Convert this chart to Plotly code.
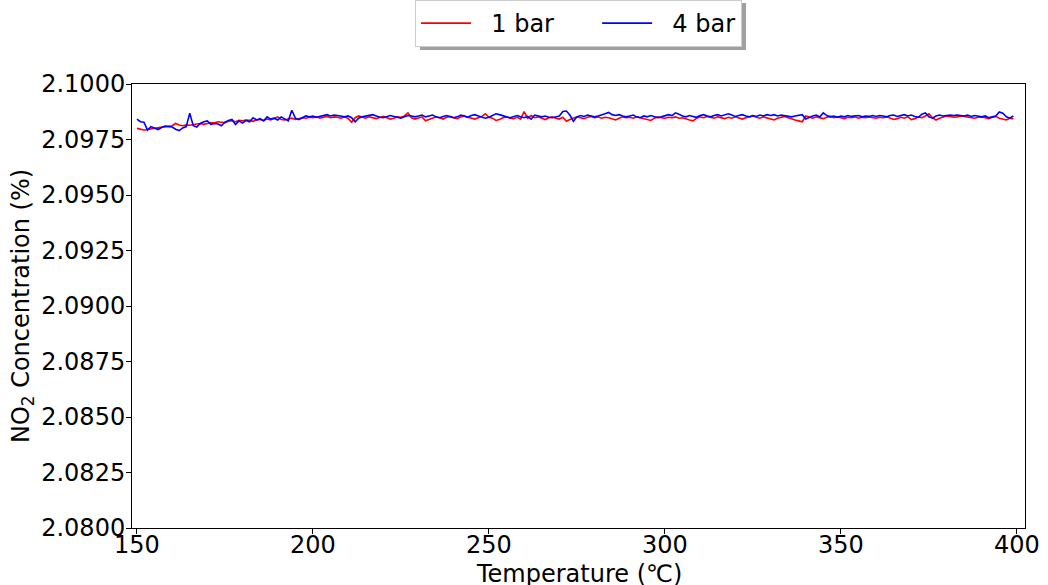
import plotly.graph_objects as go

temperature = list(range(150, 400))

no2_1bar = [
    2.09800, 2.09795, 2.09793, 2.09795, 2.09798, 2.09802, 2.09805, 2.09806, 2.09808, 2.09810,
    2.09812, 2.09822, 2.09815, 2.09812, 2.09816, 2.09814, 2.09818, 2.09820, 2.09822, 2.09818,
    2.09822, 2.09826, 2.09824, 2.09830, 2.09828, 2.09826, 2.09832, 2.09835, 2.09830, 2.09836,
    2.09834, 2.09838, 2.09836, 2.09832, 2.09838, 2.09840, 2.09836, 2.09842, 2.09838, 2.09846,
    2.09852, 2.09840, 2.09838, 2.09842, 2.09846, 2.09840, 2.09844, 2.09848, 2.09846, 2.09850,
    2.09848, 2.09852, 2.09846, 2.09850, 2.09854, 2.09848, 2.09852, 2.09850, 2.09846, 2.09852,
    2.09845, 2.09828, 2.09848, 2.09856, 2.09850, 2.09846, 2.09852, 2.09848, 2.09844, 2.09850,
    2.09854, 2.09848, 2.09842, 2.09846, 2.09852, 2.09850, 2.09856, 2.09870, 2.09848, 2.09842,
    2.09848, 2.09852, 2.09834, 2.09840, 2.09846, 2.09852, 2.09848, 2.09842, 2.09850, 2.09854,
    2.09848, 2.09844, 2.09852, 2.09856, 2.09850, 2.09846, 2.09842, 2.09848, 2.09854, 2.09866,
    2.09850, 2.09846, 2.09836, 2.09840, 2.09848, 2.09852, 2.09846, 2.09844, 2.09850, 2.09842,
    2.09876, 2.09846, 2.09858, 2.09848, 2.09852, 2.09846, 2.09840, 2.09848, 2.09852, 2.09846,
    2.09842, 2.09850, 2.09832, 2.09840, 2.09846, 2.09852, 2.09848, 2.09844, 2.09850, 2.09854,
    2.09848, 2.09852, 2.09846, 2.09850, 2.09848, 2.09842, 2.09838, 2.09846, 2.09852, 2.09848,
    2.09850, 2.09846, 2.09852, 2.09848, 2.09844, 2.09840, 2.09836, 2.09846, 2.09852, 2.09848,
    2.09846, 2.09850, 2.09848, 2.09852, 2.09846, 2.09848, 2.09842, 2.09838, 2.09834, 2.09846,
    2.09852, 2.09848, 2.09854, 2.09850, 2.09846, 2.09852, 2.09848, 2.09844, 2.09850, 2.09846,
    2.09852, 2.09848, 2.09842, 2.09848, 2.09852, 2.09856, 2.09850, 2.09846, 2.09852, 2.09848,
    2.09844, 2.09838, 2.09846, 2.09850, 2.09854, 2.09848, 2.09842, 2.09838, 2.09834, 2.09830,
    2.09856, 2.09850, 2.09846, 2.09852, 2.09848, 2.09844, 2.09850, 2.09854, 2.09848, 2.09852,
    2.09848, 2.09844, 2.09850, 2.09848, 2.09852, 2.09846, 2.09850, 2.09848, 2.09852, 2.09850,
    2.09846, 2.09850, 2.09848, 2.09852, 2.09846, 2.09840, 2.09844, 2.09850, 2.09846, 2.09852,
    2.09840, 2.09844, 2.09852, 2.09848, 2.09856, 2.09866, 2.09848, 2.09838, 2.09846, 2.09852,
    2.09856, 2.09854, 2.09850, 2.09852, 2.09856, 2.09854, 2.09852, 2.09848, 2.09846, 2.09850,
    2.09852, 2.09848, 2.09844, 2.09850, 2.09854, 2.09846, 2.09842, 2.09838, 2.09846, 2.09842,
]

no2_4bar = [
    2.09842, 2.09830, 2.09828, 2.09792, 2.09808, 2.09800, 2.09795, 2.09804, 2.09810, 2.09808,
    2.09806, 2.09796, 2.09790, 2.09802, 2.09808, 2.09868, 2.09812, 2.09806, 2.09822, 2.09830,
    2.09834, 2.09818, 2.09822, 2.09820, 2.09812, 2.09828, 2.09836, 2.09840, 2.09818, 2.09834,
    2.09824, 2.09836, 2.09830, 2.09848, 2.09838, 2.09844, 2.09834, 2.09852, 2.09842, 2.09846,
    2.09838, 2.09852, 2.09844, 2.09834, 2.09882, 2.09846, 2.09840, 2.09848, 2.09856, 2.09852,
    2.09856, 2.09850, 2.09854, 2.09858, 2.09862, 2.09856, 2.09860, 2.09858, 2.09854, 2.09852,
    2.09856, 2.09848, 2.09830, 2.09846, 2.09852, 2.09856, 2.09858, 2.09862, 2.09856, 2.09850,
    2.09848, 2.09852, 2.09858, 2.09854, 2.09850, 2.09846, 2.09852, 2.09858, 2.09856, 2.09852,
    2.09856, 2.09860, 2.09852, 2.09856, 2.09860, 2.09852, 2.09848, 2.09854, 2.09858, 2.09852,
    2.09848, 2.09852, 2.09860, 2.09856, 2.09850, 2.09858, 2.09862, 2.09856, 2.09852, 2.09846,
    2.09850, 2.09858, 2.09866, 2.09862, 2.09856, 2.09852, 2.09848, 2.09854, 2.09858, 2.09852,
    2.09848, 2.09854, 2.09842, 2.09860, 2.09856, 2.09852, 2.09856, 2.09850, 2.09848, 2.09852,
    2.09856, 2.09876, 2.09878, 2.09860, 2.09832, 2.09852, 2.09858, 2.09854, 2.09860, 2.09856,
    2.09852, 2.09856, 2.09860, 2.09866, 2.09872, 2.09862, 2.09858, 2.09862, 2.09856, 2.09852,
    2.09856, 2.09860, 2.09852, 2.09848, 2.09856, 2.09852, 2.09858, 2.09854, 2.09848, 2.09852,
    2.09856, 2.09862, 2.09858, 2.09870, 2.09864, 2.09856, 2.09852, 2.09858, 2.09854, 2.09850,
    2.09858, 2.09862, 2.09856, 2.09852, 2.09858, 2.09862, 2.09856, 2.09860, 2.09866, 2.09860,
    2.09854, 2.09858, 2.09862, 2.09856, 2.09852, 2.09858, 2.09854, 2.09860, 2.09856, 2.09862,
    2.09858, 2.09862, 2.09856, 2.09860, 2.09858, 2.09854, 2.09852, 2.09856, 2.09860, 2.09862,
    2.09842, 2.09850, 2.09856, 2.09860, 2.09852, 2.09870, 2.09858, 2.09852, 2.09856, 2.09850,
    2.09856, 2.09852, 2.09858, 2.09854, 2.09856, 2.09858, 2.09852, 2.09856, 2.09854, 2.09858,
    2.09854, 2.09858, 2.09856, 2.09852, 2.09858, 2.09860, 2.09854, 2.09858, 2.09862, 2.09856,
    2.09860, 2.09854, 2.09850, 2.09864, 2.09870, 2.09852, 2.09846, 2.09856, 2.09860, 2.09856,
    2.09858, 2.09860, 2.09858, 2.09860, 2.09858, 2.09856, 2.09860, 2.09854, 2.09858, 2.09856,
    2.09852, 2.09856, 2.09848, 2.09852, 2.09856, 2.09874, 2.09868, 2.09852, 2.09846, 2.09856,
]

series_names = ["1 bar", "4 bar"]
y_ticks = [2.08 + 0.0025 * i for i in range(9)]
x_ticks = [150, 200, 250, 300, 350, 400]

FONT = "DejaVu Sans"
FS = 24
PLOT_L, PLOT_R, PLOT_T, PLOT_B = 132, 1025, 84, 528
PW, PH = PLOT_R - PLOT_L, PLOT_B - PLOT_T
NB = "\u00a0"

fig = go.Figure()
fig.add_trace(go.Scatter(x=temperature, y=no2_1bar, mode="lines",
                         name=NB * 2 + series_names[0] + NB * 5,
                         line=dict(color="#ff0000", width=1.6)))
fig.add_trace(go.Scatter(x=temperature, y=no2_4bar, mode="lines",
                         name=NB * 2 + series_names[1],
                         line=dict(color="#0000ff", width=1.6)))

# legend shadow (drawn beneath the legend box)
sh_x0, sh_x1, sh_y0, sh_y1 = 420, 746, 3, 50

fig.update_layout(
    width=1048, height=585,
    margin=dict(l=PLOT_L, r=1048 - PLOT_R, t=PLOT_T, b=585 - PLOT_B),
    paper_bgcolor="white", plot_bgcolor="white",
    font=dict(family=FONT, size=FS, color="black"),
    showlegend=True,
    legend=dict(orientation="h", x=0.5, xanchor="center", xref="paper",
                y=1, yanchor="top", yref="container",
                bgcolor="white", bordercolor="#cccccc", borderwidth=1,
                font=dict(family=FONT, size=FS), itemwidth=50),
    shapes=[dict(type="rect", xref="paper", yref="paper",
                 x0=(sh_x0 - PLOT_L) / PW, x1=(sh_x1 - PLOT_L) / PW,
                 y0=(PLOT_B - sh_y1) / PH, y1=(PLOT_B - sh_y0) / PH,
                 fillcolor="#a0a0a0", line=dict(width=0), layer="above")],
    annotations=[
        dict(text="Temperature (℃)", xref="paper", yref="paper", x=0.5,
             y=-(574 - PLOT_B) / PH, xanchor="center", yanchor="middle",
             showarrow=False, font=dict(family=FONT, size=FS)),
        dict(text="NO<sub>2</sub> Concentration (%)", xref="paper", yref="paper",
             x=-(PLOT_L - 22) / PW, y=0.5, xanchor="center", yanchor="middle",
             textangle=-90, showarrow=False, font=dict(family=FONT, size=FS)),
    ],
)

fig.update_xaxes(range=[148.6, 402.3], tickvals=x_ticks, ticks="outside", ticklen=5,
                 tickcolor="black", showline=True, linecolor="black", linewidth=1,
                 mirror=True, showgrid=False, zeroline=False, automargin=False,
                 tickfont=dict(family=FONT, size=FS), ticklabelstandoff=-10)
fig.update_yaxes(range=[2.08, 2.10], tickvals=y_ticks, tickformat=".4f", ticks="outside", ticklen=5,
                 tickcolor="black", showline=True, linecolor="black", linewidth=1,
                 mirror=True, showgrid=False, zeroline=False, automargin=False,
                 tickfont=dict(family=FONT, size=FS), ticklabelstandoff=-4)

fig.write_html("out.html")
